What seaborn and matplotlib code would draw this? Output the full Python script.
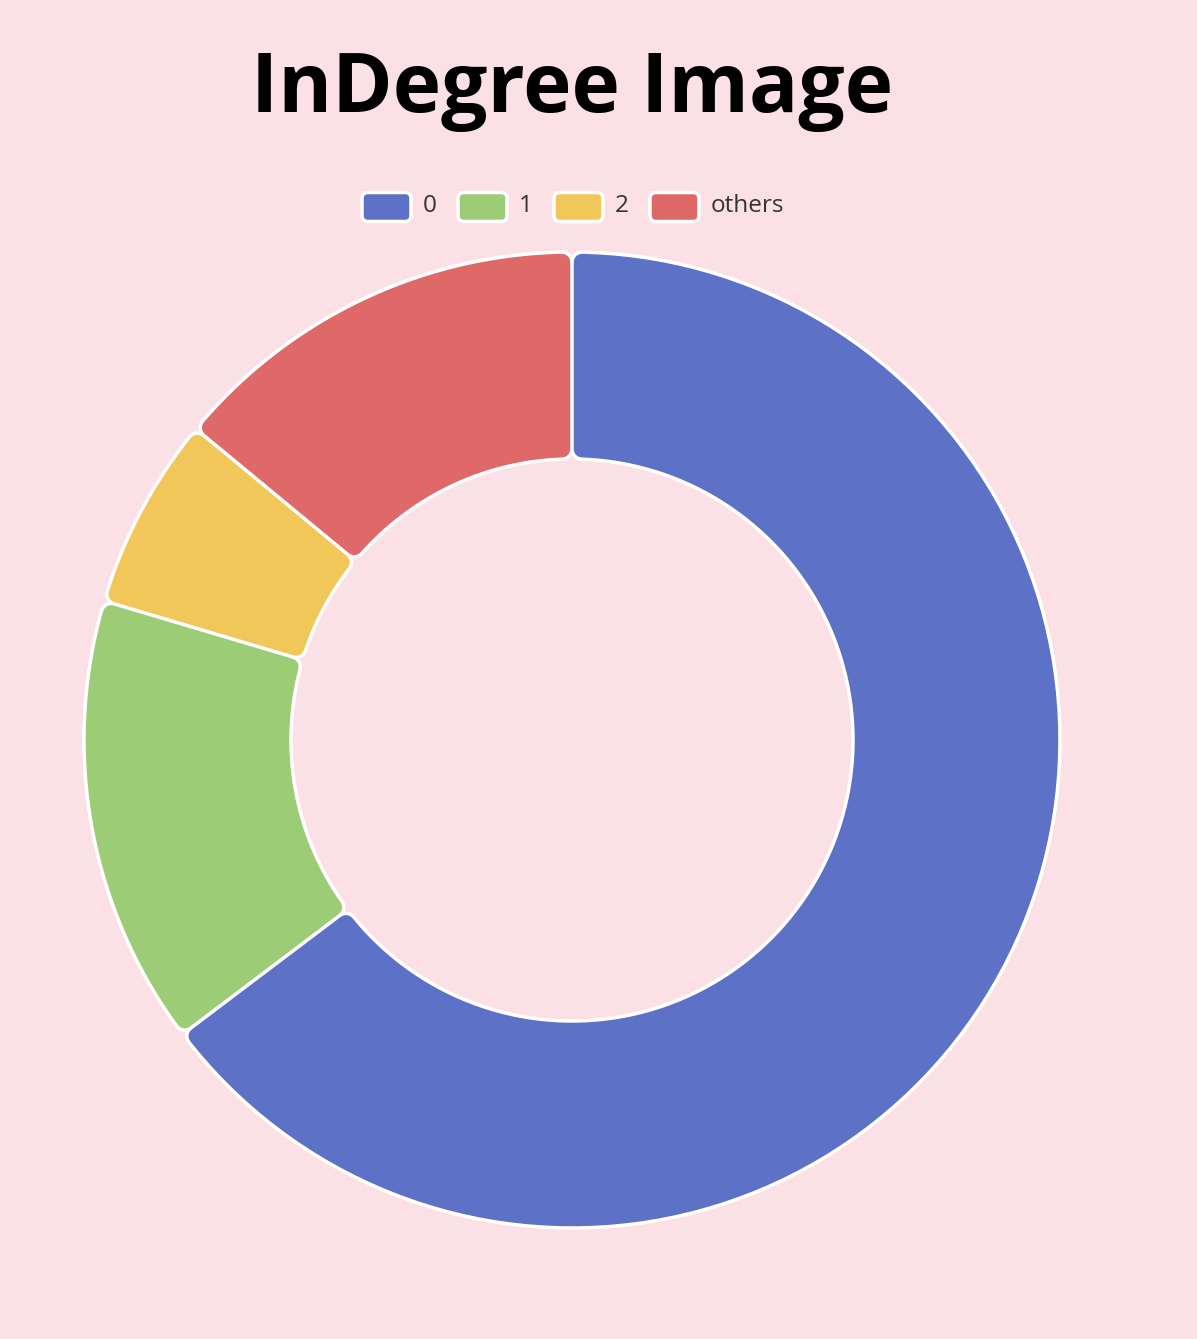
import numpy as np
import matplotlib
matplotlib.use("Agg")
import matplotlib.pyplot as plt
from matplotlib.patches import Polygon, FancyBboxPatch
import seaborn as sns

# data (share of nodes per in-degree)
labels = ["0", "1", "2", "others"]
values = [64.7, 14.9, 6.4, 14.0]
colors = ["#5D72C6", "#9DCC76", "#F1C75A", "#DF6868"]

BG = "#FBE0E5"
W, H, DPI = 1197, 1339, 100

sns.set_theme(style="white", rc={"figure.facecolor": BG, "axes.facecolor": BG})
plt.rcParams["font.family"] = ["Open Sans", "DejaVu Sans"]
palette = sns.color_palette(colors)


def px2pt(v):
    return v * 72.0 / DPI


def ring_segment(cx, cy, r_in, r_out, a1, a2, d, n=120):
    # wedge shrunk by d on every side (angles clockwise from 12 o'clock)
    ro, ri = r_out - d, r_in + d
    do, di = np.arcsin(d / ro), np.arcsin(d / ri)
    t_out = np.linspace(a1 + do, a2 - do, n)
    t_in = np.linspace(a2 - di, a1 + di, n)
    xs = np.concatenate([cx + ro * np.sin(t_out), cx + ri * np.sin(t_in)])
    ys = np.concatenate([cy - ro * np.cos(t_out), cy - ri * np.cos(t_in)])
    return np.column_stack([xs, ys])


fig = plt.figure(figsize=(W / DPI, H / DPI), dpi=DPI)
ax = fig.add_axes([0, 0, 1, 1])
ax.set_xlim(0, W)
ax.set_ylim(H, 0)
ax.axis("off")

# donut
cx, cy = 572, 740
r_out, r_in = 488, 281
corner, border = 10, 3.5

total = sum(values)
edges = np.concatenate([[0], np.cumsum(values)]) / total * 2 * np.pi
for i, col in enumerate(palette):
    pts = ring_segment(cx, cy, r_in, r_out, edges[i], edges[i + 1], corner)
    ax.add_patch(Polygon(pts, closed=True, facecolor="white", edgecolor="white",
                         lw=px2pt(2 * (corner + border / 2)), joinstyle="round", zorder=1))
    ax.add_patch(Polygon(pts, closed=True, facecolor=col, edgecolor=col,
                         lw=px2pt(2 * (corner - border / 2)), joinstyle="round", zorder=2))

# title
ax.text(572, 91, "InDegree Image", ha="center", va="center", fontsize=59,
        fontweight="bold", color="black")

# legend
box_x = [362, 458, 554, 650]
box_w, box_h, ly = 49, 29, 207
for x, lab, col in zip(box_x, labels, palette):
    ax.add_patch(FancyBboxPatch((x, ly - box_h / 2), box_w, box_h,
                                boxstyle="round,pad=0,rounding_size=6",
                                facecolor=col, edgecolor="white", lw=px2pt(3.5), zorder=3))
    ax.text(x + box_w + 12, ly - 1, lab, ha="left", va="center", fontsize=17.5,
            color="#333333")

fig.savefig("out.png", dpi=DPI, facecolor=BG)
